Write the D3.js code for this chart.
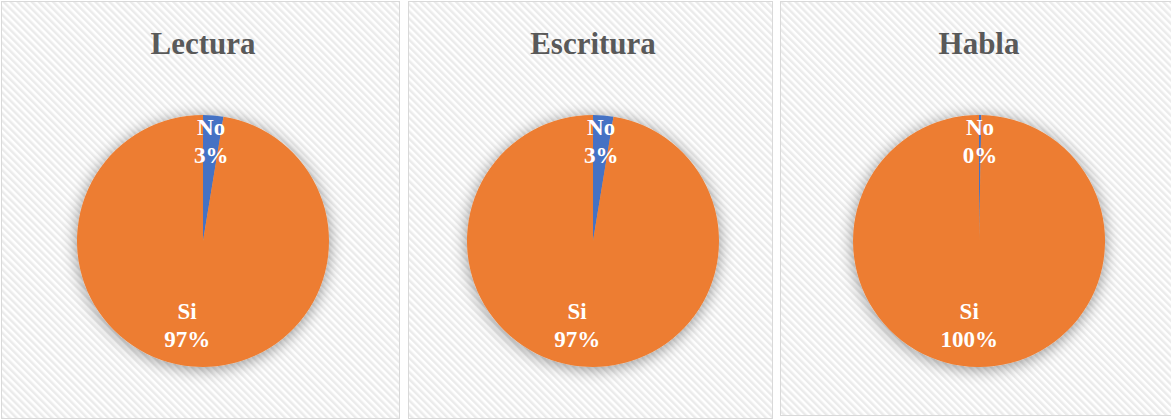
<!DOCTYPE html>
<html>
<head>
<meta charset="utf-8">
<script src="https://cdn.jsdelivr.net/npm/d3@7"></script>
<style>
  body { margin: 0; background: #fff; }
  svg { display: block; }
</style>
</head>
<body>
<div class="chart"></div>
<script>
const titles = ["Lectura", "Escritura", "Habla"];
const categories = ["No", "Si"];
// percentages (labels are rounded)
const lectura = [2.6, 97.4];
const escritura = [2.6, 97.4];
const habla = [0.3, 99.7];
const colors = ["#4472C4", "#ED7D31"];

const w = 1171,
    h = 419;

const panels = [
    {x: 1, y: 1, w: 398, h: 417, values: lectura},
    {x: 408, y: 1, w: 364, h: 417, values: escritura},
    {x: 780, y: 1, w: 392, h: 414, values: habla}
];

const svg = d3.select(".chart")
    .append("svg")
    .attr("width", w)
    .attr("height", h);

const defs = svg.append("defs");

const pattern = defs.append("pattern")
    .attr("id", "stripes")
    .attr("patternUnits", "userSpaceOnUse")
    .attr("width", 5)
    .attr("height", 5)
    .attr("patternTransform", "rotate(-45)");
pattern.append("rect")
    .attr("width", 5)
    .attr("height", 5)
    .attr("fill", "#ffffff");
pattern.append("rect")
    .attr("width", 2.5)
    .attr("height", 5)
    .attr("fill", "#ebebeb");

const shadow = defs.append("filter")
    .attr("id", "glow")
    .attr("x", "-30%")
    .attr("y", "-30%")
    .attr("width", "160%")
    .attr("height", "160%");
shadow.append("feGaussianBlur")
    .attr("in", "SourceAlpha")
    .attr("stdDeviation", 8);
shadow.append("feOffset")
    .attr("dx", 0)
    .attr("dy", 2)
    .attr("result", "blur");
shadow.append("feComponentTransfer")
    .append("feFuncA")
    .attr("type", "linear")
    .attr("slope", 0.42);
const merge = shadow.append("feMerge");
merge.append("feMergeNode");
merge.append("feMergeNode").attr("in", "SourceGraphic");

const radius = 126;
const pie = d3.pie().sort(null).value(d => d);
const arc = d3.arc().innerRadius(0).outerRadius(radius);

panels.forEach(function (p, i) {
    const cx = p.x + p.w / 2 + 3,
        cy = 241;

    const g = svg.append("g");

    g.append("rect")
        .attr("x", p.x + 0.5)
        .attr("y", p.y + 0.5)
        .attr("width", p.w)
        .attr("height", p.h)
        .attr("fill", "url(#stripes)")
        .attr("stroke", "#d9d9d9")
        .attr("stroke-width", 1);

    g.append("text")
        .attr("x", cx)
        .attr("y", 54)
        .attr("text-anchor", "middle")
        .style("font-family", "'Liberation Serif', 'Times New Roman', serif")
        .style("font-weight", "bold")
        .style("font-size", "31px")
        .style("fill", "#595959")
        .text(titles[i]);

    const total = d3.sum(p.values);
    const arcs = pie(p.values);

    const pg = g.append("g")
        .attr("transform", "translate(" + cx + "," + cy + ")");

    pg.append("g")
        .attr("filter", "url(#glow)")
        .selectAll("path")
        .data(arcs)
        .enter()
        .append("path")
        .attr("d", arc)
        .attr("fill", (d, j) => colors[j]);

    const labels = pg.selectAll("text.label")
        .data(arcs)
        .enter()
        .append("text")
        .attr("class", "label")
        .attr("transform", function (d) {
            const small = (d.endAngle - d.startAngle) < 1;
            const r = small ? 100 : 84;
            const a = (d.startAngle + d.endAngle) / 2;
            const dx = small ? 0 : -9;
            return "translate(" + (Math.sin(a) * r + dx) + "," + (-Math.cos(a) * r) + ")";
        })
        .attr("text-anchor", "middle")
        .style("font-family", "'Liberation Serif', 'Times New Roman', serif")
        .style("font-weight", "bold")
        .style("font-size", "23px")
        .style("fill", "#ffffff");

    labels.append("tspan")
        .attr("x", 0)
        .attr("y", -6)
        .text((d, j) => categories[j]);
    labels.append("tspan")
        .attr("x", 0)
        .attr("y", 22)
        .text(d => Math.round(d.value / total * 100) + "%");
});
</script>
</body>
</html>
